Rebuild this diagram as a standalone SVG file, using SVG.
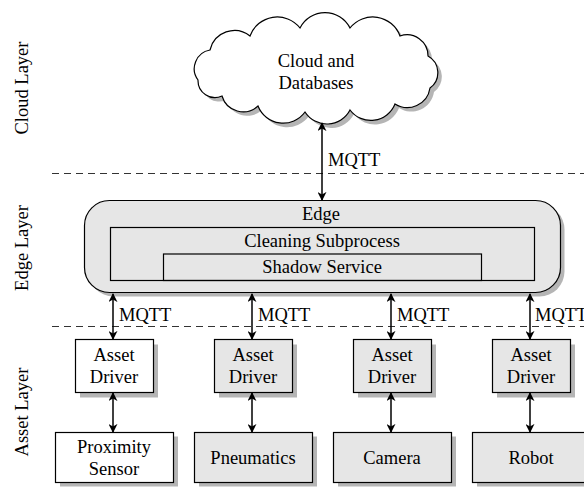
<svg xmlns="http://www.w3.org/2000/svg" width="584" height="487" viewBox="0 0 584 487">
<style>
text{font-family:"Liberation Serif","Times New Roman",serif;font-size:18.5px;fill:#000}
.c{text-anchor:middle;dominant-baseline:central}
.l{text-anchor:start;dominant-baseline:central}
.box{stroke:#000;stroke-width:1.2}
.gray{fill:#e6e6e6}
.white{fill:#fff}
.shadow{fill:#b5b5b5;stroke:none}
.plain{fill:none;stroke:#000;stroke-width:1.2}
.dash{stroke:#333;stroke-width:1.1;stroke-dasharray:7 5;fill:none}
.arr{stroke:#000;stroke-width:1.5;fill:none;marker-start:url(#ah);marker-end:url(#ah)}
</style>
<defs>
<marker id="ah" viewBox="0 0 10 10" refX="9" refY="5" markerWidth="9" markerHeight="9" markerUnits="userSpaceOnUse" orient="auto-start-reverse">
<path d="M0,0 L10,5 L0,10 L3,5 z" fill="#000"/>
</marker>
<path id="cloudPath" d="M198,80 A19,19 0 0 1 210,50 A25,25 0 0 1 250,36 A29,29 0 0 1 300,28 A28,28 0 0 1 350,28 A29,29 0 0 1 400,36 A21,21 0 0 1 428,56 A19,19 0 0 1 430,88 A23,23 0 0 1 395,104 A26,26 0 0 1 350,110 A26,26 0 0 1 305,112 A27,27 0 0 1 258,106 A22,22 0 0 1 222,96 A17,17 0 0 1 198,80 Z"/>
</defs>
<rect width="584" height="487" fill="#fff"/>

<g id="layers">
<text class="c" transform="translate(22,88) rotate(-90)">Cloud Layer</text>
<text class="c" transform="translate(22,248) rotate(-90)">Edge Layer</text>
<text class="c" transform="translate(22,412) rotate(-90)">Asset Layer</text>
<line class="dash" x1="52" y1="173.5" x2="584" y2="173.5"/>
<line class="dash" x1="52" y1="326.5" x2="584" y2="326.5"/>
</g>

<g id="cloud">
<use href="#cloudPath" transform="translate(4,4)" class="shadow"/>
<use href="#cloudPath" fill="#fff" stroke="#000" stroke-width="1.2"/>
<text class="c" x="316" y="61">Cloud and</text>
<text class="c" x="316" y="83">Databases</text>
</g>

<g id="edge">
<rect class="shadow" x="88.5" y="204.5" width="476" height="92" rx="25"/>
<rect class="box gray" x="84.5" y="200.5" width="476" height="92" rx="25"/>
<text class="c" x="321" y="214">Edge</text>
</g>
<g id="cleaning">
<rect class="plain" x="110.5" y="227.5" width="424" height="53"/>
<text class="c" x="322" y="241">Cleaning Subprocess</text>
</g>
<g id="shadowService">
<rect class="plain" x="163.5" y="254" width="318" height="26.5"/>
<text class="c" x="322" y="267">Shadow Service</text>
</g>

<g id="driver1">
<rect class="shadow" x="80" y="344.5" width="78" height="53"/>
<rect class="box white" x="75.5" y="339.5" width="78" height="53"/>
<text class="c" x="114" y="355">Asset</text>
<text class="c" x="114" y="377">Driver</text>
</g>
<g id="driver2">
<rect class="shadow" x="219" y="344.5" width="78" height="53"/>
<rect class="box gray" x="214.5" y="339.5" width="78" height="53"/>
<text class="c" x="253" y="355">Asset</text>
<text class="c" x="253" y="377">Driver</text>
</g>
<g id="driver3">
<rect class="shadow" x="358" y="344.5" width="78" height="53"/>
<rect class="box gray" x="353.5" y="339.5" width="78" height="53"/>
<text class="c" x="392" y="355">Asset</text>
<text class="c" x="392" y="377">Driver</text>
</g>
<g id="driver4">
<rect class="shadow" x="497" y="344.5" width="78" height="53"/>
<rect class="box gray" x="492.5" y="339.5" width="78" height="53"/>
<text class="c" x="531" y="355">Asset</text>
<text class="c" x="531" y="377">Driver</text>
</g>

<g id="proximity">
<rect class="shadow" x="60" y="436.5" width="118" height="50"/>
<rect class="box white" x="55.5" y="432.5" width="118" height="50"/>
<text class="c" x="114" y="447">Proximity</text>
<text class="c" x="114" y="469">Sensor</text>
</g>
<g id="pneumatics">
<rect class="shadow" x="199" y="436.5" width="118" height="50"/>
<rect class="box gray" x="194.5" y="432.5" width="118" height="50"/>
<text class="c" x="253" y="458">Pneumatics</text>
</g>
<g id="camera">
<rect class="shadow" x="338" y="436.5" width="118" height="50"/>
<rect class="box gray" x="333.5" y="432.5" width="118" height="50"/>
<text class="c" x="392" y="458">Camera</text>
</g>
<g id="robot">
<rect class="shadow" x="477" y="436.5" width="118" height="50"/>
<rect class="box gray" x="472.5" y="432.5" width="118" height="50"/>
<text class="c" x="531" y="458">Robot</text>
</g>

<g id="connectors">
<line class="arr" x1="322" y1="123" x2="322" y2="200"/>
<text class="l" x="328" y="160">MQTT</text>
<line class="arr" x1="113" y1="294" x2="113" y2="339"/>
<text class="l" x="119" y="315">MQTT</text>
<line class="arr" x1="252" y1="294" x2="252" y2="339"/>
<text class="l" x="258" y="315">MQTT</text>
<line class="arr" x1="391" y1="294" x2="391" y2="339"/>
<text class="l" x="397" y="315">MQTT</text>
<line class="arr" x1="530" y1="294" x2="530" y2="339"/>
<text class="l" x="535" y="315">MQTT</text>
<line class="arr" x1="113" y1="393" x2="113" y2="432"/>
<line class="arr" x1="252" y1="393" x2="252" y2="432"/>
<line class="arr" x1="391" y1="393" x2="391" y2="432"/>
<line class="arr" x1="530" y1="393" x2="530" y2="432"/>
</g>
</svg>
